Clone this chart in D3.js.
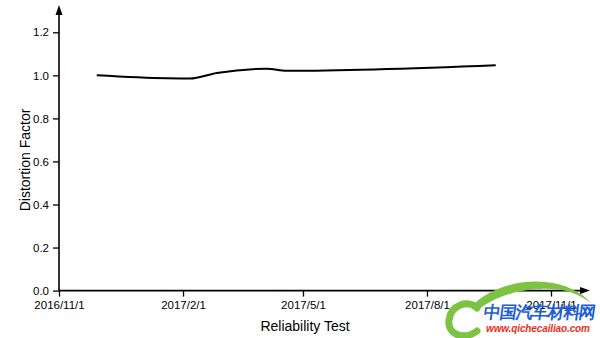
<!DOCTYPE html>
<html>
<head>
<meta charset="utf-8">
<script src="https://cdn.jsdelivr.net/npm/d3@7"></script>
<style>
  body { margin: 0; background: #fff; }
  svg text { font-family: "Liberation Sans", Arial, sans-serif; fill: #000; }
</style>
</head>
<body>
<svg id="chart" width="600" height="338"></svg>
<script>
// data
var testDates = ["2016-11-29", "2017-01-20", "2017-02-06", "2017-02-26", "2017-04-04", "2017-04-19", "2017-09-21"];
var distortion = [1.000, 0.986, 0.985, 1.011, 1.031, 1.021, 1.047];
var xTickDates = ["2016-11-01", "2017-02-01", "2017-05-01", "2017-08-01", "2017-11-01"];
var yTicks = [0.0, 0.2, 0.4, 0.6, 0.8, 1.0, 1.2];

var parse = d3.timeParse("%Y-%m-%d");
var fmt = function(d) { return d.getFullYear() + "/" + (d.getMonth() + 1) + "/" + d.getDate(); };

var svg = d3.select("#chart");

var x0 = 59, y0 = 290.6;
var x = d3.scaleTime()
    .domain([parse("2016-11-01"), parse("2017-11-01")])
    .range([x0, 551]);
var y = d3.scaleLinear()
    .domain([0, 1.2])
    .range([y0, 32.3]);

var points = testDates.map(function(d, i) { return { date: parse(d), value: distortion[i] }; });

// x axis: major ticks quarterly, minor monthly
var xAxis = svg.append("g").attr("transform", "translate(0," + y0 + ")");
xAxis.call(d3.axisBottom(x)
    .tickValues(d3.timeMonth.range(parse("2016-11-01"), parse("2017-12-01")))
    .tickSize(3).tickFormat(""));
xAxis.call(d3.axisBottom(x)
    .tickValues(xTickDates.map(parse))
    .tickSize(6).tickPadding(4)
    .tickFormat(fmt));
xAxis.selectAll(".domain").remove();
xAxis.selectAll("line").attr("stroke", "#000").attr("stroke-width", 1.3);
xAxis.selectAll("text").attr("font-size", 11.5).attr("font-family", "Liberation Sans, Arial, sans-serif");

// y axis: major 0.2, minor 0.1
var yAxis = svg.append("g").attr("transform", "translate(" + x0 + ",0)");
yAxis.call(d3.axisLeft(y)
    .tickValues(d3.range(0, 1.31, 0.1))
    .tickSize(3).tickFormat(""));
yAxis.call(d3.axisLeft(y)
    .tickValues(yTicks)
    .tickSize(6).tickPadding(4)
    .tickFormat(d3.format(".1f")));
yAxis.selectAll(".domain").remove();
yAxis.selectAll("line").attr("stroke", "#000").attr("stroke-width", 1.3);
yAxis.selectAll("text").attr("font-size", 11.5).attr("font-family", "Liberation Sans, Arial, sans-serif");

// axis lines with arrow heads
svg.append("line").attr("x1", x0).attr("y1", y0).attr("x2", 585).attr("y2", y0)
    .attr("stroke", "#000").attr("stroke-width", 1.6);
svg.append("path").attr("d", "M590," + y0 + "L580," + (y0 - 3.5) + "L580," + (y0 + 3.5) + "Z").attr("fill", "#000");
svg.append("line").attr("x1", x0).attr("y1", y0).attr("x2", x0).attr("y2", 10)
    .attr("stroke", "#000").attr("stroke-width", 1.6);
svg.append("path").attr("d", "M" + x0 + ",5L" + (x0 - 3.5) + ",15L" + (x0 + 3.5) + ",15Z").attr("fill", "#000");

// data line
var line = d3.line()
    .x(function(d) { return x(d.date); })
    .y(function(d) { return y(d.value); })
    .curve(d3.curveMonotoneX);
svg.append("path").datum(points)
    .attr("d", line)
    .attr("fill", "none")
    .attr("stroke", "#000")
    .attr("stroke-width", 2);

// titles
svg.append("text").attr("x", 305).attr("y", 331)
    .attr("text-anchor", "middle").attr("font-size", 14)
    .text("Reliability Test");
svg.append("text")
    .attr("transform", "translate(30,160) rotate(-90)")
    .attr("text-anchor", "middle").attr("font-size", 14)
    .text("Distortion Factor");

// watermark logo (sits over the last tick label, as in the source image)
var wm = svg.append("g");
wm.append("path")
    .attr("d", "M472,306 C488,289 518,279 545,282 C566,284 581,292 591,303 C576,292 560,288 540,289 C515,290 492,298 477,311 Z")
    .attr("fill", "#7dc242");
wm.append("path")
    .attr("d", "M477,308 C468,299 451,305 449,320 C447,334 463,341 477,331")
    .attr("fill", "none").attr("stroke", "#7dc242").attr("stroke-width", 7).attr("stroke-linecap", "round");
wm.append("text").attr("x", 484).attr("y", 318)
    .attr("font-family", "Noto Sans CJK SC").attr("font-weight", "bold").attr("font-size", 17)
    .attr("textLength", 112).attr("transform", "skewX(-8) translate(44,0)")
    .style("fill", "#1f5fd0")
    .text("中国汽车材料网");
wm.append("text").attr("x", 486).attr("y", 332)
    .attr("font-family", "Liberation Sans, Arial").attr("font-weight", "bold").attr("font-size", 10)
    .attr("font-style", "italic").attr("textLength", 104)
    .style("fill", "#e8301c")
    .text("www.qichecailiao.com");
</script>
</body>
</html>
